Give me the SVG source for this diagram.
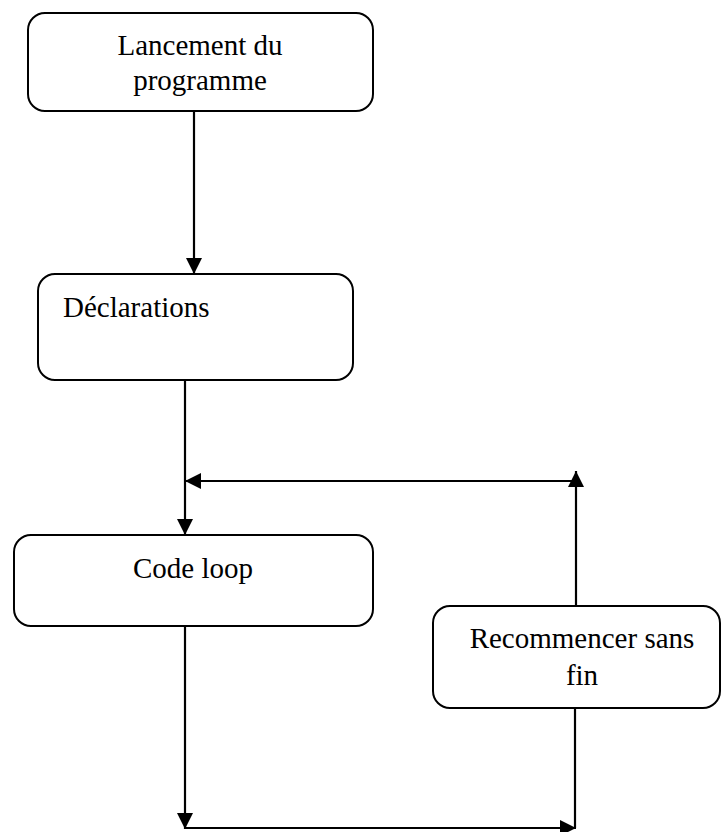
<svg xmlns="http://www.w3.org/2000/svg" width="721" height="832" viewBox="0 0 721 832">
<defs>
<style>
.box{fill:#fff;stroke:#000;stroke-width:2}
.t{font-family:"Liberation Serif","Times New Roman",serif;font-size:29px;fill:#000}
.c{text-anchor:middle}
.ln{fill:none;stroke:#000;stroke-width:2.2}
</style>
<marker id="ah" viewBox="0 0 16 16" refX="16" refY="8" markerWidth="16" markerHeight="16" markerUnits="userSpaceOnUse" orient="auto">
<path d="M0,0 L16,8 L0,16 Z" fill="#000"/>
</marker>
</defs>
<rect width="721" height="832" fill="#fff"/>
<g id="connectors">
<line class="ln" x1="194" y1="111" x2="194" y2="274" marker-end="url(#ah)"/>
<line class="ln" x1="185" y1="380" x2="185" y2="535" marker-end="url(#ah)"/>
<line class="ln" x1="576" y1="606" x2="576" y2="471" marker-end="url(#ah)"/>
<line class="ln" x1="576" y1="481" x2="185" y2="481" marker-end="url(#ah)"/>
<line class="ln" x1="185" y1="626" x2="185" y2="829" marker-end="url(#ah)"/>
<line class="ln" x1="575" y1="708" x2="575" y2="828"/>
<line class="ln" x1="185" y1="828" x2="576" y2="828" marker-end="url(#ah)"/>
</g>
<g id="n1">
<rect class="box" x="28" y="13" width="345" height="98" rx="17"/>
<text class="t c" x="200" y="55">Lancement du</text>
<text class="t c" x="200" y="90">programme</text>
</g>
<g id="n2">
<rect class="box" x="38" y="274" width="315" height="106" rx="17"/>
<text class="t" x="63" y="317">Déclarations</text>
</g>
<g id="n3">
<rect class="box" x="14" y="535" width="359" height="91" rx="17"/>
<text class="t c" x="193" y="578">Code loop</text>
</g>
<g id="n4">
<rect class="box" x="433" y="606" width="287" height="102" rx="17"/>
<text class="t c" x="582" y="648">Recommencer sans</text>
<text class="t c" x="582" y="685">fin</text>
</g>
</svg>
